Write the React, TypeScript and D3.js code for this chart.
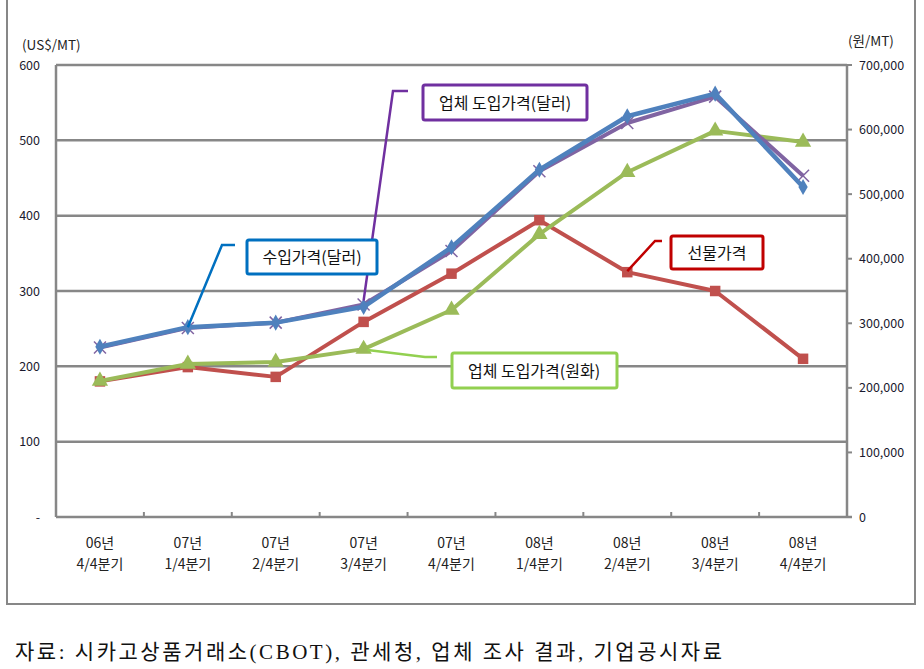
import React from "react";
import * as d3 from "d3";

const categoriesYear = ["06년", "07년", "07년", "07년", "07년", "08년", "08년", "08년", "08년"];
const categoriesQuarter = ["4/4분기", "1/4분기", "2/4분기", "3/4분기", "4/4분기", "1/4분기", "2/4분기", "3/4분기", "4/4분기"];

const importPriceUSD = [226, 252, 258, 279, 358, 461, 532, 562, 438];
const companyPriceUSD = [225, 251, 258, 282, 353, 459, 523, 558, 453];
const futuresPrice = [180, 199, 186, 259, 323, 394, 325, 300, 210];
const companyPriceKRW = [210600, 237000, 240000, 260000, 320600, 438000, 534000, 598000, 580700];

const leftTicks = [0, 100, 200, 300, 400, 500, 600];
const rightTicks = [0, 100000, 200000, 300000, 400000, 500000, 600000, 700000];

const W = 924, H = 669;
const L = 56, R = 847, T = 65, B = 517;

export default function App() {
  const idx = categoriesYear.map((_, i) => i);
  const x = d3.scaleBand<number>().domain(idx).range([L, R]).padding(0);
  const cx = (i: number) => (x(i) as number) + x.bandwidth() / 2;
  const yL = d3.scaleLinear().domain([0, 600]).range([B, T]);
  const yR = d3.scaleLinear().domain([0, 700000]).range([B, T]);

  const lineL = d3.line<number>().x((_, i) => cx(i)).y((d) => yL(d));
  const lineR = d3.line<number>().x((_, i) => cx(i)).y((d) => yR(d));

  const blue = "#4F81BD", red = "#C0504D", green = "#9BBB59", purple = "#8064A2";
  const grid = "#878787";
  const fmt = d3.format(",");
  const kfont = "'Noto Sans CJK KR', 'Noto Sans', sans-serif";

  const diamond = d3.symbol().type(d3.symbolDiamond).size(75)() as string;
  const square = d3.symbol().type(d3.symbolSquare).size(110)() as string;
  const triangle = d3.symbol().type(d3.symbolTriangle).size(115)() as string;

  return (
    <svg width={W} height={H} style={{ position: "absolute", left: 0, top: 0, background: "#fff" }} fontFamily={kfont}>
      <rect x={0} y={0} width={W} height={H} fill="#fff" />
      {/* outer frame */}
      <rect x={7} y={-3} width={908} height={607} fill="none" stroke={grid} strokeWidth={2} />

      {/* gridlines */}
      {leftTicks.filter((t) => t > 0).map((t) => (
        <line key={"g" + t} x1={L} x2={R} y1={yL(t)} y2={yL(t)} stroke={grid} strokeWidth={2.5} />
      ))}
      {/* axes */}
      <line x1={L} x2={L} y1={T} y2={B} stroke={grid} strokeWidth={2.5} />
      <line x1={R} x2={R} y1={T} y2={B} stroke={grid} strokeWidth={2.5} />
      <line x1={L} x2={R + 5} y1={B} y2={B} stroke={grid} strokeWidth={2.5} />
      {idx.slice(1).map((i) => (
        <line key={"bt" + i} x1={x(i) as number} x2={x(i) as number} y1={B} y2={B - 5} stroke={grid} strokeWidth={2} />
      ))}
      {rightTicks.map((t) => (
        <line key={"rt" + t} x1={R} x2={R + 5} y1={yR(t)} y2={yR(t)} stroke={grid} strokeWidth={2} />
      ))}

      {/* left tick labels */}
      {leftTicks.map((t) => (
        <text key={"lt" + t} x={40} y={yL(t) + 4.5} textAnchor="end" fontSize={12.5} fill="#1a1a2e">
          {t === 0 ? "-" : t}
        </text>
      ))}
      {rightTicks.map((t) => (
        <text key={"rl" + t} x={859} y={yR(t) + 4.5} textAnchor="start" fontSize={12.5} fill="#1a1a2e">
          {fmt(t)}
        </text>
      ))}
      <text x={22} y={50} fontSize={13.5} fill="#222">(US$/MT)</text>
      <text x={848} y={46} fontSize={13.5} fill="#222">(원/MT)</text>

      {/* category labels */}
      {idx.map((i) => (
        <g key={"c" + i}>
          <text x={cx(i)} y={548} textAnchor="middle" fontSize={14} fill="#222">{categoriesYear[i]}</text>
          <text x={cx(i)} y={569} textAnchor="middle" fontSize={14} fill="#222">{categoriesQuarter[i]}</text>
        </g>
      ))}

      {/* series */}
      <path d={lineL(futuresPrice) as string} fill="none" stroke={red} strokeWidth={4} strokeLinejoin="round" />
      {futuresPrice.map((v, i) => (
        <path key={"rs" + i} d={square} transform={`translate(${cx(i)},${yL(v)})`} fill={red} />
      ))}
      <path d={lineR(companyPriceKRW) as string} fill="none" stroke={green} strokeWidth={4} strokeLinejoin="round" />
      {companyPriceKRW.map((v, i) => (
        <path key={"gs" + i} d={triangle} transform={`translate(${cx(i)},${yR(v)})`} fill={green} />
      ))}
      <path d={lineL(companyPriceUSD) as string} fill="none" stroke={purple} strokeWidth={4} strokeLinejoin="round" />
      {companyPriceUSD.map((v, i) => (
        <g key={"ps" + i} transform={`translate(${cx(i)},${yL(v)})`} stroke={purple} strokeWidth={1.5}>
          <line x1={-6} y1={-6} x2={6} y2={6} />
          <line x1={-6} y1={6} x2={6} y2={-6} />
        </g>
      ))}
      <path d={lineL(importPriceUSD) as string} fill="none" stroke={blue} strokeWidth={4.5} strokeLinejoin="round" />
      {importPriceUSD.map((v, i) => (
        <path key={"bs" + i} d={diamond} transform={`translate(${cx(i)},${yL(v)})`} fill={blue} />
      ))}

      {/* callouts */}
      <polyline points={`${cx(3)},${yL(companyPriceUSD[3]) - 4} 393,91 408,91`} fill="none" stroke="#7030A0" strokeWidth={2.5} />
      <rect x={423} y={85} width={164} height={35} rx={2} fill="#fff" stroke="#7030A0" strokeWidth={3} />
      <text x={505} y={108.5} textAnchor="middle" fontSize={16} fill="#111">업체 도입가격(달러)</text>

      <polyline points={`${cx(1)},${yL(importPriceUSD[1])} 222,245 235,245`} fill="none" stroke="#0070C0" strokeWidth={2.5} />
      <rect x={247} y={240} width={130} height={34} rx={2} fill="#fff" stroke="#0070C0" strokeWidth={3} />
      <text x={312} y={263} textAnchor="middle" fontSize={16} fill="#111">수입가격(달러)</text>

      <polyline points={`${cx(6)},${yL(futuresPrice[6]) - 1} 655,241 662,241`} fill="none" stroke="#C00000" strokeWidth={2.5} />
      <rect x={671} y={236} width={92} height={33} rx={2} fill="#fff" stroke="#C00000" strokeWidth={3} />
      <text x={717} y={258.5} textAnchor="middle" fontSize={16} fill="#111">선물가격</text>

      <polyline points={`${cx(3) + 4},${yR(companyPriceKRW[3]) + 1} 425,357 437,357`} fill="none" stroke="#92D050" strokeWidth={2.5} />
      <rect x={452} y={353} width={165} height={35} rx={2} fill="#fff" stroke="#92D050" strokeWidth={3} />
      <text x={534} y={376.5} textAnchor="middle" fontSize={16} fill="#111">업체 도입가격(원화)</text>

      {/* source */}
      <text x={15} y={659} fontSize={21} fill="#111" textLength={707} lengthAdjust="spacing" fontFamily="'Liberation Serif', 'Noto Sans CJK KR', serif">
        자료: 시카고상품거래소(CBOT), 관세청, 업체 조사 결과, 기업공시자료
      </text>
    </svg>
  );
}
